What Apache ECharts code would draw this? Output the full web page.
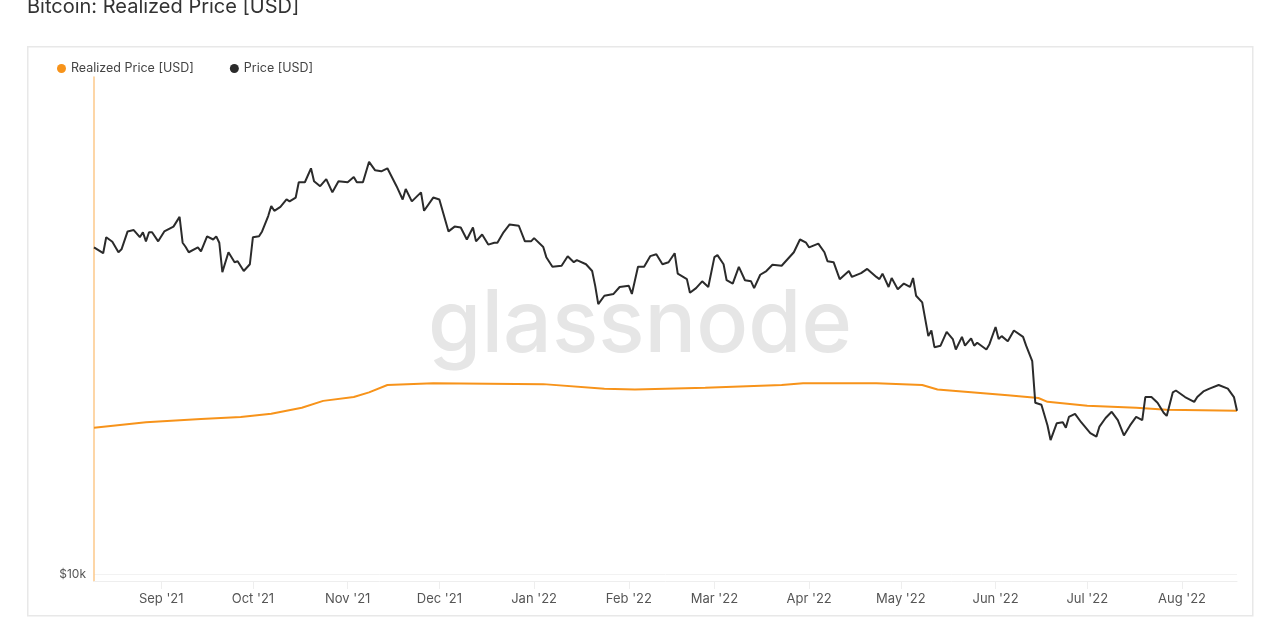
<!DOCTYPE html>
<html>
<head>
<meta charset="utf-8">
<script src="https://cdn.jsdelivr.net/npm/echarts@6/dist/echarts.min.js"></script>
<style>
  html, body { margin: 0; padding: 0; background: #fff; }
  #chart { width: 1280px; height: 640px; }
</style>
</head>
<body>
<div id="chart"></div>
<script>
// price in $k
var priceDates = ['2021-08-10','2021-08-13','2021-08-14','2021-08-16','2021-08-18','2021-08-19','2021-08-21','2021-08-23','2021-08-25','2021-08-26','2021-08-27','2021-08-28','2021-08-29','2021-08-31',
  '2021-09-02','2021-09-05','2021-09-07','2021-09-08','2021-09-09','2021-09-10','2021-09-13','2021-09-14','2021-09-16','2021-09-18','2021-09-19','2021-09-20','2021-09-21','2021-09-23','2021-09-25','2021-09-26','2021-09-28','2021-09-30',
  '2021-10-01','2021-10-03','2021-10-04','2021-10-06','2021-10-07','2021-10-08','2021-10-10','2021-10-12','2021-10-13','2021-10-15','2021-10-16','2021-10-18','2021-10-20','2021-10-21','2021-10-23','2021-10-25','2021-10-27','2021-10-29',
  '2021-11-01','2021-11-03','2021-11-04','2021-11-06','2021-11-08','2021-11-10','2021-11-12','2021-11-14','2021-11-17','2021-11-19','2021-11-20','2021-11-22','2021-11-25','2021-11-26','2021-11-29',
  '2021-12-01','2021-12-04','2021-12-06','2021-12-08','2021-12-10','2021-12-12','2021-12-13','2021-12-15','2021-12-17','2021-12-19','2021-12-20','2021-12-22','2021-12-24','2021-12-27','2021-12-29','2021-12-31',
  '2022-01-01','2022-01-04','2022-01-05','2022-01-07','2022-01-10','2022-01-12','2022-01-14','2022-01-15','2022-01-18','2022-01-20','2022-01-21','2022-01-22','2022-01-24','2022-01-27','2022-01-29',
  '2022-02-01','2022-02-02','2022-02-04','2022-02-06','2022-02-08','2022-02-10','2022-02-12','2022-02-14','2022-02-16','2022-02-17','2022-02-20','2022-02-21','2022-02-23','2022-02-25','2022-02-27',
  '2022-03-01','2022-03-02','2022-03-04','2022-03-05','2022-03-07','2022-03-09','2022-03-11','2022-03-13','2022-03-14','2022-03-16','2022-03-18','2022-03-20','2022-03-23','2022-03-27','2022-03-29','2022-03-31',
  '2022-04-01','2022-04-04','2022-04-06','2022-04-07','2022-04-09','2022-04-11','2022-04-14','2022-04-15','2022-04-18','2022-04-20','2022-04-23','2022-04-24','2022-04-25','2022-04-27','2022-04-28','2022-04-30',
  '2022-05-02','2022-05-04','2022-05-05','2022-05-06','2022-05-08','2022-05-10','2022-05-11','2022-05-12','2022-05-14','2022-05-16','2022-05-18','2022-05-19','2022-05-21','2022-05-22','2022-05-24','2022-05-25','2022-05-26','2022-05-29','2022-05-30',
  '2022-06-01','2022-06-02','2022-06-03','2022-06-05','2022-06-07','2022-06-10','2022-06-11','2022-06-13','2022-06-14','2022-06-16','2022-06-18','2022-06-19','2022-06-21','2022-06-23','2022-06-24','2022-06-25','2022-06-27','2022-06-29',
  '2022-07-02','2022-07-04','2022-07-05','2022-07-07','2022-07-09','2022-07-11','2022-07-13','2022-07-15','2022-07-17','2022-07-19','2022-07-20','2022-07-22','2022-07-24','2022-07-26','2022-07-27','2022-07-29','2022-07-30',
  '2022-08-02','2022-08-05','2022-08-06','2022-08-08','2022-08-10','2022-08-13','2022-08-16','2022-08-18','2022-08-19'];
var priceValues = [45.4,44.2,47.6,46.6,44.4,45.0,48.9,49.2,47.6,48.7,46.7,48.7,48.7,46.7,
  48.9,50.0,52.3,46.4,45.5,44.4,45.4,44.6,47.8,47.1,47.8,46.4,40.5,44.4,42.4,42.6,40.7,42.0,
  47.6,47.8,48.9,52.5,55.0,53.8,54.8,56.7,56.2,57.2,61.4,61.4,65.5,61.7,60.3,62.3,58.6,61.7,
  61.4,62.9,61.4,61.4,67.5,64.9,64.6,65.5,60.3,56.7,59.5,56.2,58.6,53.8,57.2,
  56.7,48.9,50.0,49.8,47.1,49.8,46.7,48.2,46.0,46.4,46.4,48.7,50.5,50.2,46.7,46.7,
  47.4,45.5,43.4,41.5,41.7,43.6,42.4,42.8,42.0,40.7,38.0,34.9,36.3,36.6,37.8,
  38.0,36.6,41.5,41.5,43.6,44.0,42.0,42.4,44.2,40.2,39.2,36.8,37.6,38.8,37.8,
  43.4,43.8,42.0,39.0,38.4,41.5,39.0,38.8,37.6,40.0,40.7,41.9,41.7,44.4,47.1,46.4,
  45.4,46.2,44.4,42.6,42.4,39.2,40.7,39.6,40.3,41.1,39.6,39.2,40.2,37.8,39.4,37.4,
  38.4,37.8,39.4,36.3,35.2,30.1,30.9,28.6,28.8,30.7,29.7,28.3,30.0,28.8,29.8,28.8,29.2,28.3,29.0,
  31.4,29.7,30.1,29.4,30.9,30.0,28.8,26.8,22.1,21.9,19.9,18.6,20.1,20.2,19.7,20.7,21.0,20.2,
  19.2,18.9,19.8,20.6,21.2,20.4,19.0,19.9,20.7,20.4,22.7,22.7,22.1,21.1,20.8,23.2,23.4,
  22.7,22.2,22.7,23.3,23.6,24.0,23.6,22.7,21.3];

// realized price in $k
var realizedDates = ['2021-08-10','2021-08-27','2021-09-14','2021-09-27','2021-10-07','2021-10-17','2021-10-24','2021-11-03','2021-11-08','2021-11-14','2021-11-29',
  '2022-01-04','2022-01-24','2022-02-03','2022-02-26','2022-03-23','2022-03-30','2022-04-23','2022-05-08','2022-05-13','2022-06-05','2022-06-15','2022-06-18','2022-07-01','2022-07-17','2022-07-27','2022-08-19'];
var realizedValues = [19.7,20.2,20.5,20.7,21.0,21.6,22.3,22.7,23.2,24.0,24.2,
  24.1,23.6,23.5,23.7,24.0,24.2,24.2,24.0,23.5,22.9,22.6,22.2,21.8,21.6,21.4,21.3];

var monthNames = ['Jan','Feb','Mar','Apr','May','Jun','Jul','Aug','Sep','Oct','Nov','Dec'];

function pairs(dates, vals) {
  return dates.map(function (d, i) { return [d, vals[i] * 1000]; });
}

var chart = echarts.init(document.getElementById('chart'));
chart.setOption({
  animation: false,
  textStyle: { fontFamily: 'Inter, "Noto Sans", sans-serif' },
  graphic: [
    { type: 'rect', left: 27, top: 46, z: -10, shape: { width: 1225, height: 569 },
      style: { fill: '#fff', stroke: '#e8e8e8', lineWidth: 1.5 } },
    { type: 'text', left: 27, top: -3,
      style: { text: 'Bitcoin: Realized Price [USD]', fill: '#333', font: '20px Inter, sans-serif' } },
    { type: 'text', left: 'center', top: 283, z: -5,
      style: { text: 'glassnode', fill: '#e6e6e6', font: '500 86px Inter, sans-serif' } }
  ],
  legend: {
    left: 52, top: 57, icon: 'circle', itemWidth: 9, itemHeight: 9, itemGap: 36,
    textStyle: { color: '#444', fontSize: 12.5 },
    data: ['Realized Price [USD]', 'Price [USD]']
  },
  grid: { left: 94, right: 43, top: 77, bottom: 59 },
  xAxis: {
    type: 'time',
    min: '2021-08-10', max: '2022-08-19',
    minInterval: 28 * 86400000, maxInterval: 31 * 86400000,
    axisLine: { lineStyle: { color: '#eee' } },
    axisTick: { show: true, length: 8, lineStyle: { color: '#eee' } },
    splitLine: { show: false },
    axisLabel: {
      color: '#555', fontSize: 13, margin: 12,
      formatter: function (v) {
        var d = new Date(v);
        return monthNames[d.getMonth()] + " '" + String(d.getFullYear()).slice(2);
      }
    }
  },
  yAxis: {
    type: 'log', logBase: 10, min: 9680, max: 100000,
    axisLine: { show: true, lineStyle: { color: '#fcc98a', width: 1.5 } },
    axisTick: { show: false },
    splitLine: { show: true, lineStyle: { color: ['#fff', '#f2f2f2'] } },
    axisLabel: {
      color: '#555', fontSize: 12, showMaxLabel: false,
      formatter: function (v) { return Math.round(v) === 10000 ? '$10k' : ''; }
    }
  },
  series: [
    { name: 'Realized Price [USD]', type: 'line', showSymbol: false, symbol: 'circle',
      color: '#f7931a', lineStyle: { width: 2 }, data: pairs(realizedDates, realizedValues) },
    { name: 'Price [USD]', type: 'line', showSymbol: false, symbol: 'circle',
      color: '#2b2b2b', lineStyle: { width: 2 }, data: pairs(priceDates, priceValues) }
  ]
});
</script>
</body>
</html>
